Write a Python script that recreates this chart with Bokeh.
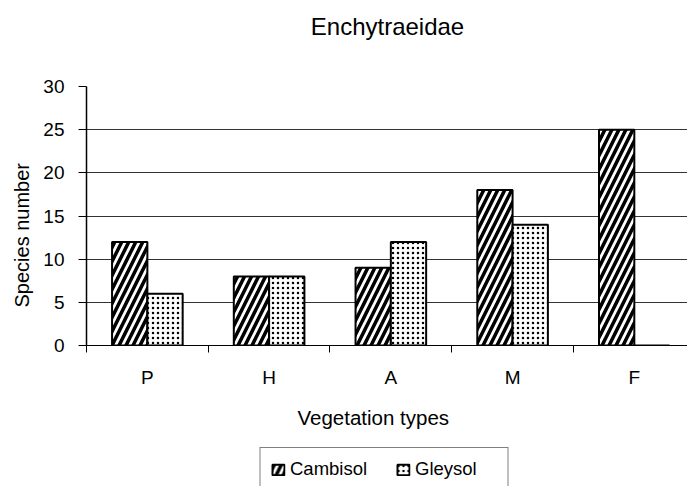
from bokeh.plotting import figure
from bokeh.layouts import column
from bokeh.models import (Range1d, LinearAxis, FixedTicker, Grid, Title,
                          Legend, LegendItem, ColumnDataSource)
from bokeh.embed import file_html
from bokeh.resources import INLINE

# ---- data ----
categories = ["P", "H", "A", "M", "F"]
cambisol = [12, 8, 9, 18, 25]
gleysol = [6, 8, 12, 14, 0]
y_ticks = [0, 5, 10, 15, 20, 25, 30]
title_text = "Enchytraeidae"
x_title = "Vegetation types"
y_title = "Species number"
series_names = ["Cambisol", "Gleysol"]

FONT = "Liberation Sans"
idx = list(range(len(categories)))
bar_w = 0.29

src = ColumnDataSource(dict(
    xc=[i + 0.5 - bar_w / 2 for i in idx],
    xg=[i + 0.5 + bar_w / 2 for i in idx],
    cambisol=cambisol,
    gleysol=gleysol,
))

CAMB = dict(fill_color="white", line_color="black", line_width=2,
            hatch_pattern="right_diagonal_line", hatch_color="black",
            hatch_weight=3.5, hatch_scale=14)
GLEY = dict(fill_color="white", line_color="black", line_width=2,
            hatch_pattern="dot", hatch_color="black",
            hatch_weight=0.7, hatch_scale=5)

p = figure(frame_width=602, frame_height=259,
           min_border_left=79, min_border_right=0,
           min_border_top=86, min_border_bottom=102,
           x_range=Range1d(0, 4.945), y_range=Range1d(0, 30),
           x_axis_type=None, y_axis_type=None,
           output_backend="svg", toolbar_location=None)
p.outline_line_color = None
p.background_fill_color = "white"
p.border_fill_color = "white"

yticker = FixedTicker(ticks=y_ticks, minor_ticks=[])
p.add_layout(Grid(dimension=1, ticker=yticker, grid_line_color="#333333",
                  grid_line_width=1))

p.vbar(x="xc", top="cambisol", width=bar_w, bottom=0, source=src, **CAMB)
p.vbar(x="xg", top="gleysol", width=bar_w, bottom=0, source=src, **GLEY)

yaxis = LinearAxis(ticker=yticker, major_tick_out=8, major_tick_in=0,
                   major_label_standoff=14,
                   major_label_text_font=FONT,
                   major_label_text_font_size="19px",
                   major_label_text_color="black",
                   axis_line_color="black", axis_line_width=1.5,
                   major_tick_line_color="black")
p.add_layout(yaxis, "left")

xaxis = LinearAxis(ticker=FixedTicker(ticks=[i + 0.5 for i in idx],
                                      minor_ticks=[0, 1, 2, 3, 4, 5]),
                   major_label_overrides={i + 0.5: c for i, c in zip(idx, categories)},
                   axis_line_color="black", axis_line_width=1,
                   major_tick_line_color=None,
                   major_tick_out=0, major_tick_in=0,
                   minor_tick_line_color="black",
                   minor_tick_out=7, minor_tick_in=0,
                   major_label_standoff=14,
                   major_label_text_font=FONT,
                   major_label_text_font_size="19px",
                   major_label_text_color="black")
p.add_layout(xaxis, "below")

top_axis = LinearAxis(ticker=FixedTicker(ticks=[], minor_ticks=[]),
                      axis_line_color=None, major_tick_line_color=None,
                      minor_tick_line_color=None,
                      axis_label=title_text, axis_label_standoff=47,
                      axis_label_text_font=FONT,
                      axis_label_text_font_size="24px",
                      axis_label_text_font_style="normal",
                      axis_label_text_color="black")
p.add_layout(top_axis, "above")

p.add_layout(Title(text=y_title, align="left", offset=38, standoff=15,
                   text_font=FONT, text_font_size="20px",
                   text_font_style="normal", text_color="black"), "left")
p.add_layout(Title(text=x_title, align="left", offset=211, standoff=30,
                   vertical_align="top",
                   text_font=FONT, text_font_size="20.5px",
                   text_font_style="normal", text_color="black"), "below")

# ---- legend strip below the chart (its bars lie outside its view) ----
p2 = figure(frame_width=595, frame_height=39,
            min_border_left=86, min_border_right=0,
            min_border_top=0, min_border_bottom=0,
            x_range=Range1d(-100, -99), y_range=Range1d(100, 101),
            x_axis_type=None, y_axis_type=None,
            output_backend="svg", toolbar_location=None)
p2.outline_line_color = None
p2.background_fill_color = "white"
p2.border_fill_color = "white"
p2.xgrid.visible = False
p2.ygrid.visible = False
l1 = p2.vbar(x="xc", top="cambisol", width=bar_w, bottom=0, source=src, **CAMB)
l2 = p2.vbar(x="xg", top="gleysol", width=bar_w, bottom=0, source=src, **GLEY)

legend = Legend(items=[LegendItem(label=series_names[0], renderers=[l1]),
                       LegendItem(label=series_names[1], renderers=[l2])],
                orientation="horizontal", location="top_center",
                border_line_color="black", border_line_width=1,
                background_fill_color="white", background_fill_alpha=1,
                label_text_font=FONT, label_text_font_size="18.5px",
                label_text_color="black",
                glyph_width=15, glyph_height=13, label_standoff=5,
                label_width=82, spacing=23, padding=10, margin=0,
                label_height=19)
p2.add_layout(legend, "center")

layout = column(p, p2, spacing=0)
open("out.html", "w").write(file_html(layout, INLINE))
